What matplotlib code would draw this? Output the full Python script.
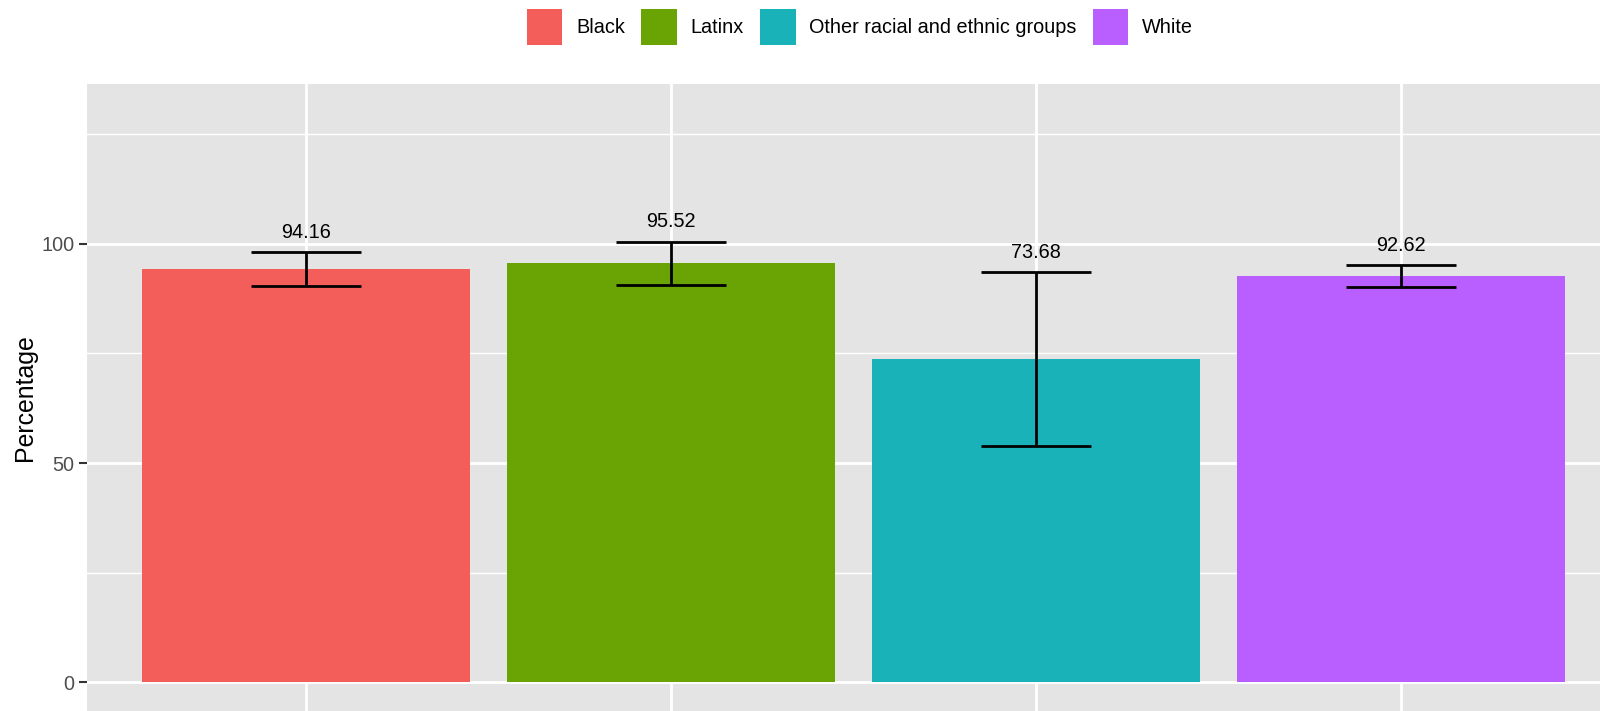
import matplotlib
matplotlib.use("Agg")
import matplotlib.pyplot as plt
from matplotlib.patches import Patch

plt.rcParams['font.family'] = ['Liberation Sans', 'DejaVu Sans']

# data
groups = ['Black', 'Latinx', 'Other racial and ethnic groups', 'White']
pct = [94.16, 95.52, 73.68, 92.62]
lower = [90.3, 90.7, 53.9, 90.1]
upper = [98.1, 100.5, 93.5, 95.1]
y_ticks = [0, 50, 100]

colors = ['#F35E5A', '#6AA304', '#18B2B8', '#B95EFF']
panel_bg = '#E4E4E4'

fig = plt.figure(figsize=(16, 7.11), dpi=100)
# the panel runs past the right and bottom edge of the picture, as in the original
ax = fig.add_axes([87 / 1600, 0.0, 1533 / 1600, 627.4 / 711])
ax.set_facecolor(panel_bg)

x = list(range(1, len(groups) + 1))
ax.bar(x, pct, width=0.9, color=colors, zorder=2)

# error bars
ax.vlines(x, lower, upper, color='black', lw=2, zorder=3)
ax.hlines(lower, [xi - 0.15 for xi in x], [xi + 0.15 for xi in x], color='black', lw=2, zorder=3)
ax.hlines(upper, [xi - 0.15 for xi in x], [xi + 0.15 for xi in x], color='black', lw=2, zorder=3)

for xi, p, u in zip(x, pct, upper):
    ax.text(xi, u + 4.5, f'{p:.2f}', ha='center', va='center', fontsize=14.3, color='black', zorder=4)

ax.set_xlim(0.4, 4.6)
ax.set_ylim(-6.5, 136.5)
ax.set_xticks(x)
ax.set_xticklabels([])
ax.set_yticks(y_ticks)
ax.set_yticks([25, 75, 125], minor=True)
ax.grid(which='major', color='white', lw=2, zorder=0)
ax.grid(which='minor', axis='y', color='white', lw=1, zorder=0)
ax.set_axisbelow(True)
for s in ax.spines.values():
    s.set_visible(False)
ax.tick_params(axis='y', which='major', length=6, width=1.5, color='#333333',
               labelsize=14.3, labelcolor='#4D4D4D', pad=3)
ax.tick_params(axis='y', which='minor', length=0)
ax.tick_params(axis='x', length=6, width=1.5, color='#333333')
ax.set_ylabel('Percentage', fontsize=17.9, labelpad=3)

handles = [Patch(facecolor=c, edgecolor='none') for c in colors]
fig.legend(handles, groups, ncol=4, loc='center', bbox_to_anchor=(860 / 1600, 0.962),
           frameon=False, fontsize=14.3, handlelength=1.8, handleheight=2.4,
           handletextpad=0.7, columnspacing=0.8, borderpad=0)

fig.savefig('out.png', dpi=100)
